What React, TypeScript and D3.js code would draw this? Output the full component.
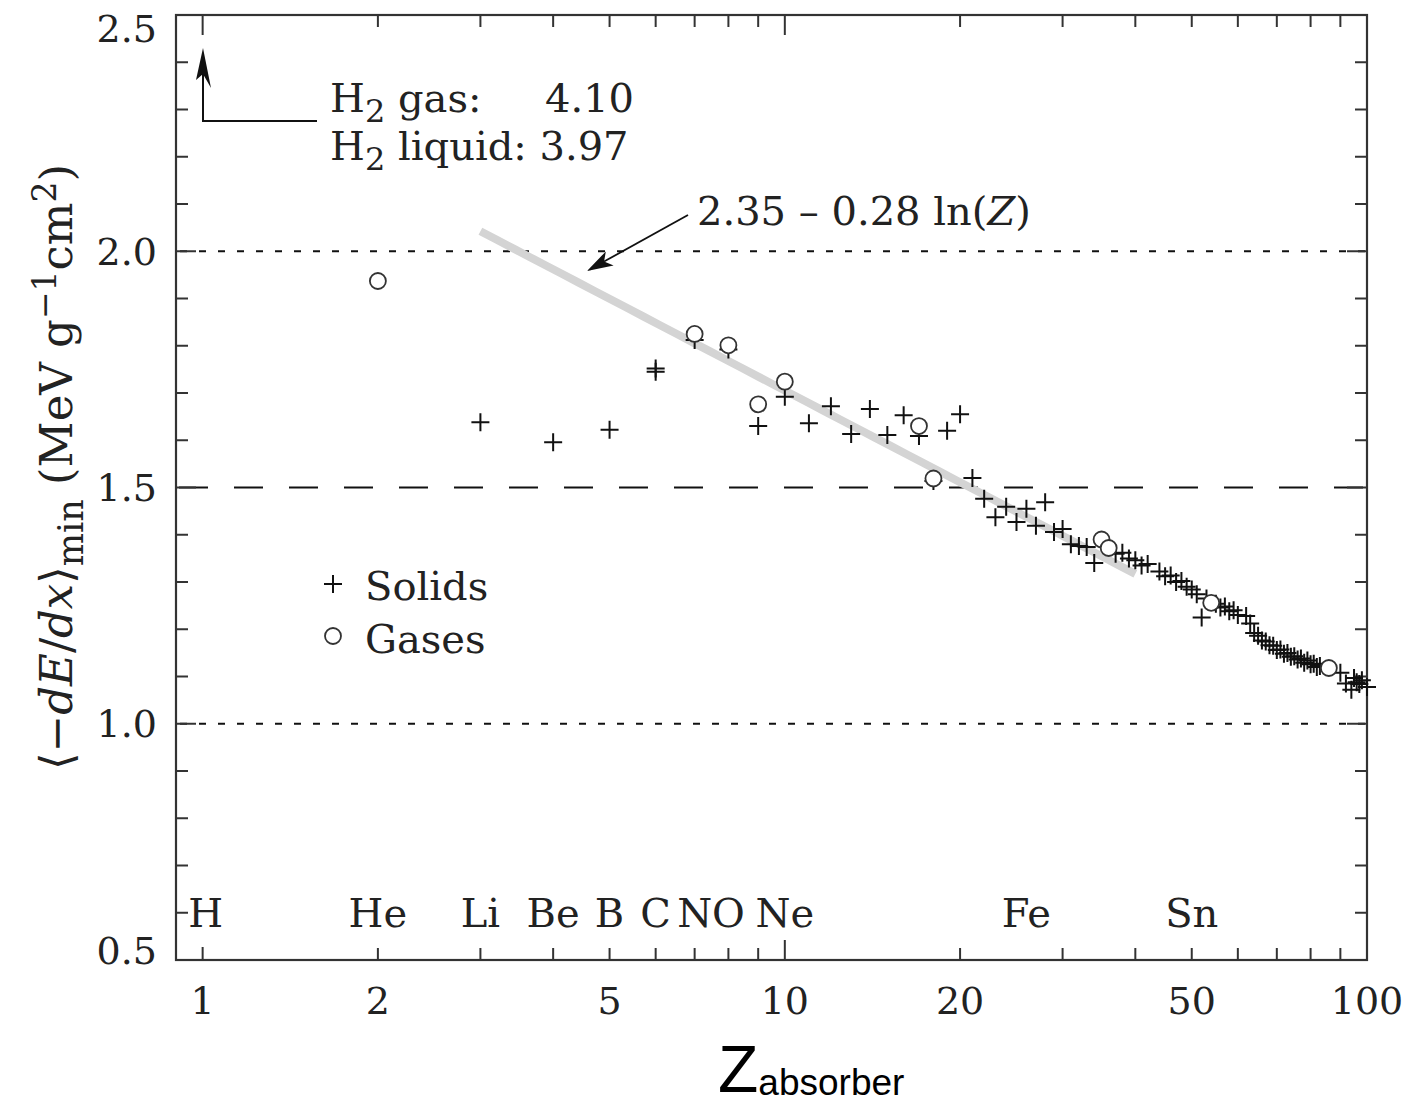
import React from "react";
import * as d3 from "d3";

// ---------- data ----------
const solidZ = [3, 4, 5, 6, 6, 7, 8, 9, 10, 11, 12, 13, 14, 15, 16, 17, 18, 19, 20, 21, 22, 23, 24, 25, 26, 27, 28, 29, 30, 31, 32, 33, 34, 37, 38, 39, 40, 41, 42, 44, 45, 46, 47, 48, 49, 50, 51, 52, 53, 55, 56, 57, 58, 59, 60, 62, 63, 64, 65, 66, 67, 68, 69, 70, 71, 72, 73, 74, 75, 76, 77, 78, 79, 80, 81, 82, 83, 90, 92, 94, 95, 96, 97, 98, 100];
const solidV = [1.638, 1.596, 1.622, 1.745, 1.752, 1.812, 1.792, 1.630, 1.692, 1.636, 1.672, 1.613, 1.666, 1.611, 1.653, 1.609, 1.514, 1.620, 1.655, 1.520, 1.476, 1.437, 1.459, 1.427, 1.455, 1.419, 1.469, 1.406, 1.412, 1.380, 1.376, 1.374, 1.340, 1.360, 1.362, 1.350, 1.346, 1.335, 1.338, 1.322, 1.312, 1.314, 1.300, 1.302, 1.290, 1.284, 1.274, 1.225, 1.265, 1.254, 1.246, 1.248, 1.238, 1.240, 1.230, 1.228, 1.212, 1.192, 1.186, 1.176, 1.174, 1.166, 1.165, 1.156, 1.157, 1.148, 1.150, 1.142, 1.143, 1.136, 1.138, 1.129, 1.134, 1.126, 1.127, 1.120, 1.122, 1.108, 1.085, 1.072, 1.097, 1.088, 1.084, 1.092, 1.078];
const gasZ = [2, 7, 8, 9, 10, 17, 18, 35, 36, 54, 86];
const gasV = [1.937, 1.825, 1.801, 1.676, 1.724, 1.630, 1.519, 1.390, 1.372, 1.256, 1.118];

const yTicks = [0.5, 1.0, 1.5, 2.0, 2.5];
const yTickLabels = ["0.5", "1.0", "1.5", "2.0", "2.5"];
const xTicks = [1, 2, 5, 10, 20, 50, 100];
const xTickLabels = ["1", "2", "5", "10", "20", "50", "100"];
const elementNames = ["H", "He", "Li", "Be", "B", "C", "N", "O", "Ne", "Fe", "Sn"];
const elementZ = [1, 2, 3, 4, 5, 6, 7, 8, 10, 26, 50];
const fitA = 2.35;
const fitB = 0.28;
const fitRange = [3, 40];
const refLines = [2.0, 1.5, 1.0];

// ---------- layout ----------
const W = 1419, H = 1107;
const L = 176, R = 1367, T = 15, B = 960;
const SERIF = "'DejaVu Serif', serif";

export default function App() {
  const x = d3.scaleLog().domain([0.9, 100]).range([L, R]);
  const y = d3.scaleLinear().domain([0.5, 2.5]).range([B, T]);

  const minorY = d3.range(5, 26).map((d) => d / 10);
  const minorX: number[] = [];
  for (const dec of [1, 10]) for (let k = 1; k <= 9; k++) minorX.push(k * dec);
  minorX.push(100);

  const fitPts = d3.range(0, 41).map((i) => {
    const z = fitRange[0] * Math.pow(fitRange[1] / fitRange[0], i / 40);
    return [x(z), y(fitA - fitB * Math.log(z))] as [number, number];
  });
  const line = d3.line();

  const stroke = "#333";
  const plus = (cx: number, cy: number, k: string) => (
    <path key={k} d={`M${cx - 9},${cy}H${cx + 9}M${cx},${cy - 9}V${cy + 9}`} stroke="#111" strokeWidth={2} fill="none" />
  );

  // formula arrow
  const ax1 = 688, ay1 = 215, ax2 = 587, ay2 = 271;
  const ang = Math.atan2(ay2 - ay1, ax2 - ax1);
  const hl = 26, hw = 8;
  const bx = ax2 - hl * Math.cos(ang), by = ay2 - hl * Math.sin(ang);
  const nx = -Math.sin(ang), ny = Math.cos(ang);
  const nb = ax2 - hl * 0.75 * Math.cos(ang), nby = ay2 - hl * 0.75 * Math.sin(ang);
  const head = `M${ax2},${ay2}L${bx + nx * hw},${by + ny * hw}L${nb},${nby}L${bx - nx * hw},${by - ny * hw}Z`;

  return (
    <svg width={W} height={H} style={{ display: "block", position: "absolute", left: 0, top: 0, background: "#fff" }}>
      {/* reference lines */}
      {refLines.map((v) => (
        <line key={v} x1={L} x2={R} y1={y(v)} y2={y(v)} stroke="#111" strokeWidth={2}
          strokeDasharray={v === 1.5 ? "29,26" : "7,12"} strokeDashoffset={v === 1.5 ? -3 : -4} />
      ))}

      {/* fit line */}
      <path d={line(fitPts) || ""} stroke="#d4d4d4" strokeWidth={8} fill="none" />

      {/* frame */}
      <rect x={L} y={T} width={R - L} height={B - T} fill="none" stroke={stroke} strokeWidth={2.2} />
      {/* y ticks */}
      {minorY.map((v) => {
        const major = Math.abs(v * 2 - Math.round(v * 2)) < 1e-6;
        const len = major ? 20 : 12;
        return (
          <g key={"yt" + v}>
            <line x1={L} x2={L + len} y1={y(v)} y2={y(v)} stroke={stroke} strokeWidth={2} />
            <line x1={R} x2={R - len} y1={y(v)} y2={y(v)} stroke={stroke} strokeWidth={2} />
          </g>
        );
      })}
      {/* x ticks */}
      {minorX.map((v) => {
        const major = v === 1 || v === 10 || v === 100;
        const len = major ? 20 : 12;
        const lenB = v === 1 ? 13 : len;
        return (
          <g key={"xt" + v}>
            <line x1={x(v)} x2={x(v)} y1={B} y2={B - lenB} stroke={stroke} strokeWidth={2} />
            <line x1={x(v)} x2={x(v)} y1={T} y2={T + len} stroke={stroke} strokeWidth={2} />
          </g>
        );
      })}

      {/* y tick labels */}
      {yTicks.map((v, i) => (
        <text key={"yl" + v} x={157} y={Math.min(Math.max(y(v), 28), 950)} dy="0.36em" textAnchor="end"
          fontFamily={SERIF} fontSize={38} fill="#222">{yTickLabels[i]}</text>
      ))}
      {/* x tick labels */}
      {xTicks.map((v, i) => (
        <text key={"xl" + v} x={x(v)} y={1014} textAnchor="middle" fontFamily={SERIF} fontSize={38} fill="#222">{xTickLabels[i]}</text>
      ))}
      {/* element labels */}
      {elementNames.map((n, i) => (
        <text key={"el" + n} x={x(elementZ[i]) + (n === "H" ? 3 : 0)} y={927} textAnchor="middle" fontFamily={SERIF} fontSize={40} fill="#222">{n}</text>
      ))}

      {/* data */}
      {solidZ.map((z, i) => plus(x(z), y(solidV[i]), "s" + i))}
      {gasZ.map((z, i) => (
        <circle key={"g" + i} cx={x(z)} cy={y(gasV[i])} r={8} fill="#fff" stroke="#333" strokeWidth={1.8} />
      ))}

      {/* legend */}
      {plus(333, 584, "legplus")}
      <text x={365} y={600} fontFamily={SERIF} fontSize={40} fill="#222">Solids</text>
      <circle cx={333} cy={636} r={8} fill="#fff" stroke="#333" strokeWidth={1.8} />
      <text x={365} y={653} fontFamily={SERIF} fontSize={40} fill="#222">Gases</text>

      {/* H2 annotation */}
      <path d="M317,121H203V60" stroke="#111" strokeWidth={2} fill="none" />
      <path d="M203,48L196,80L203,74L211,88Z" fill="#111" />
      <text x={330} y={112} fontFamily={SERIF} fontSize={40} fill="#222">
        H<tspan fontSize={32} dy={10}>2</tspan><tspan dy={-10}> gas:</tspan>
      </text>
      <text x={545} y={112} fontFamily={SERIF} fontSize={40} fill="#222">4.10</text>
      <text x={330} y={160} fontFamily={SERIF} fontSize={40} fill="#222">
        H<tspan fontSize={32} dy={10}>2</tspan><tspan dy={-10}> liquid: 3.97</tspan>
      </text>

      {/* formula annotation */}
      <line x1={ax1} y1={ay1} x2={nb} y2={nby} stroke="#111" strokeWidth={1.8} />
      <path d={head} fill="#111" />
      <text x={697} y={225} fontFamily={SERIF} fontSize={40} fill="#222">
        2.35 – 0.28 ln(<tspan fontStyle="italic">Z</tspan>)
      </text>

      {/* y axis title */}
      <text transform="translate(72,467) rotate(-90)" textAnchor="middle" fontFamily={SERIF} fontSize={45} fill="#222">
        ⟨−<tspan fontStyle="italic">dE</tspan>/<tspan fontStyle="italic">dx</tspan>⟩<tspan fontSize={35} dy={11}>min</tspan>
        <tspan dy={-11}> (MeV g</tspan><tspan fontSize={33} dy={-16}>−1</tspan><tspan dy={16}>cm</tspan><tspan fontSize={33} dy={-16}>2</tspan><tspan dy={16}>)</tspan>
      </text>

      {/* x axis title */}
      <text x={718} y={1092} fontFamily="'Liberation Sans', Arial, sans-serif" fontSize={66} fill="#000">
        Z<tspan fontSize={37} dy={3}>absorber</tspan>
      </text>
    </svg>
  );
}
